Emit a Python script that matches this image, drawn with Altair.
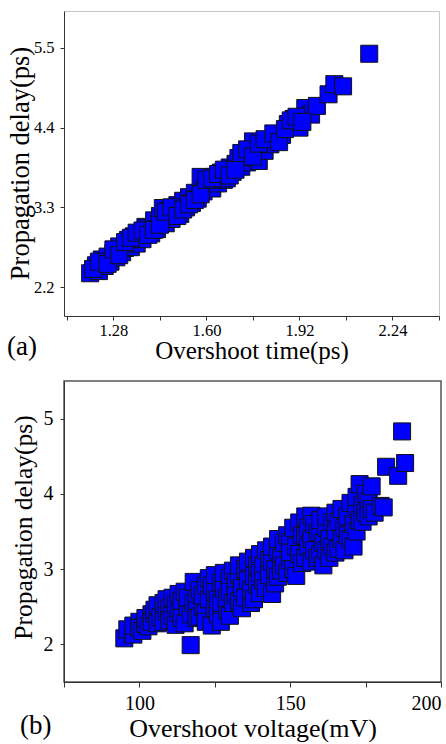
import altair as alt
import pandas as pd

# ---------------- Panel (a) data: Overshoot time vs propagation delay
a_time = [1.20, 1.22, 1.23, 1.24, 1.25, 1.26, 1.27, 1.28, 1.29, 1.30, 1.31, 1.32, 1.33, 1.34,
          1.35, 1.36, 1.37, 1.38, 1.39, 1.40, 1.41, 1.42, 1.43, 1.44, 1.45, 1.46, 1.47, 1.48,
          1.49, 1.50, 1.51, 1.52, 1.53, 1.54, 1.55, 1.56, 1.57, 1.58, 1.59, 1.60, 1.61, 1.62,
          1.63, 1.64, 1.65, 1.66, 1.67, 1.68, 1.69, 1.70, 1.71, 1.72, 1.73, 1.74, 1.75, 1.76,
          1.77, 1.78, 1.79, 1.80, 1.81, 1.82, 1.84, 1.86, 1.88, 1.89, 1.90, 1.92, 1.94, 1.96,
          1.98, 2.02, 2.04, 2.07, 2.16,
          1.21, 1.23, 1.26, 1.28, 1.30, 1.32, 1.34, 1.36, 1.38, 1.40, 1.42, 1.44, 1.46, 1.48,
          1.50, 1.52, 1.54, 1.56, 1.58, 1.60, 1.62, 1.64, 1.66, 1.68, 1.70, 1.72, 1.74, 1.76,
          1.78, 1.80, 1.83, 1.85, 1.87, 1.89, 1.91, 1.93]
a_delay = [2.39, 2.50, 2.42, 2.58, 2.49, 2.62, 2.55, 2.67, 2.61, 2.76, 2.68, 2.74, 2.85, 2.75,
           2.90, 2.80, 2.93, 2.86, 3.03, 3.01, 2.94, 3.12, 3.00, 3.18, 3.29, 3.08, 3.25, 3.14,
           3.22, 3.33, 3.21, 3.39, 3.30, 3.44, 3.36, 3.50, 3.42, 3.72, 3.52, 3.59, 3.66, 3.56,
           3.72, 3.63, 3.78, 3.68, 3.70, 3.85, 3.79, 3.90, 3.98, 3.86, 3.99, 3.92, 4.05, 4.21,
           3.98, 3.94, 4.15, 4.08, 4.22, 4.17, 4.25, 4.30, 4.45, 4.41, 4.52, 4.40, 4.67, 4.58,
           4.70, 4.86, 5.00, 4.97, 5.42,
           2.45, 2.55, 2.52, 2.72, 2.64, 2.82, 2.88, 2.95, 2.98, 2.92, 2.99, 3.06, 3.24, 3.30,
           3.18, 3.27, 3.34, 3.40, 3.48, 3.68, 3.70, 3.76, 3.82, 3.74, 3.82, 4.05, 4.10, 4.00,
           4.18, 4.24, 4.32, 4.20, 4.38, 4.50, 4.55, 4.48]

# ---------------- Panel (b) data: Overshoot voltage vs propagation delay
b_volt = [95, 97.7, 96, 98, 98, 100, 100, 101, 102, 102, 103, 104, 104, 105, 105, 106, 106,
          107, 108, 108, 109, 109, 110, 110, 111, 111, 112, 112, 113, 113, 114, 114, 115, 115,
          116, 116, 117, 118, 118, 119, 119, 119, 120, 120, 121, 121, 122, 122, 122, 123, 123,
          124, 124, 125, 125, 125, 126, 126, 127, 127, 127, 128, 128, 129, 129, 130, 130, 130,
          131, 131, 132, 132, 133, 133, 133, 134, 134, 135, 135, 136, 136, 137, 137, 138, 138,
          138, 139, 139, 140, 140, 140, 141, 141, 142, 142, 143, 143, 144, 144, 144, 145, 145,
          146, 146, 146, 147, 147, 148, 148, 149, 149, 150, 150, 150, 151, 151, 152, 152, 153,
          153, 154, 154, 155, 155, 155, 156, 156, 157, 157, 157, 158, 158, 159, 159, 160, 160,
          160, 161, 161, 162, 162, 162, 163, 163, 164, 164, 165, 165, 165, 166, 166, 167, 167,
          168, 168, 169, 169, 170, 170, 171, 171, 172, 172, 172, 173, 173, 174, 174, 175, 175,
          176, 176, 177, 177, 178, 180, 181, 181.8, 185.8, 117, 187.1, 188.1]
b_delay = [2.08, 2.15, 2.20, 2.13, 2.25, 2.30, 2.22, 2.18, 2.27, 2.35, 2.24, 2.40, 2.30, 2.41,
           2.46, 2.28, 2.52, 2.36, 2.55, 2.30, 2.44, 2.60, 2.48, 2.32, 2.38, 2.62, 2.52, 2.26,
           2.67, 2.42, 2.58, 2.35, 2.28, 2.70, 2.50, 2.62, 2.40, 2.83, 2.55, 2.61, 2.45, 2.35,
           2.72, 2.37, 2.50, 2.65, 2.78, 2.42, 2.30, 2.60, 2.88, 2.25, 2.78, 2.48, 2.70, 2.92,
           2.40, 2.60, 2.82, 2.55, 2.30, 2.74, 2.95, 2.45, 2.62, 2.88, 2.70, 2.38, 2.98, 2.55,
           2.83, 2.65, 2.57, 2.92, 3.05, 2.75, 2.48, 3.00, 2.62, 2.85, 3.10, 2.55, 2.72, 2.91,
           3.15, 2.60, 2.80, 3.05, 3.20, 2.68, 2.95, 3.05, 2.85, 2.75, 3.25, 3.12, 2.92, 3.10,
           2.67, 3.30, 2.81, 3.00, 3.25, 3.40, 2.90, 3.15, 2.98, 3.35, 3.05, 2.95, 3.45, 3.36,
           3.12, 3.22, 3.55, 3.00, 2.91, 3.30, 3.20, 3.62, 3.45, 3.08, 3.44, 3.15, 3.70, 3.30,
           3.55, 3.71, 3.10, 3.40, 3.25, 3.60, 3.48, 3.15, 3.49, 3.20, 3.65, 3.35, 3.05, 3.55,
           3.25, 3.70, 3.40, 3.15, 3.62, 3.30, 3.75, 3.22, 3.50, 3.63, 3.27, 3.40, 3.80, 3.55,
           3.25, 3.70, 3.45, 3.40, 3.88, 3.60, 3.30, 3.80, 3.96, 3.50, 4.13, 3.65, 3.63, 3.85,
           3.75, 4.00, 3.90, 3.70, 4.10, 3.80, 3.75, 3.84, 3.82, 4.36, 4.24, 1.99, 4.83, 4.41]

# axis ticks: labelled majors and unlabelled minors
a_xticks = [1.28, 1.60, 1.92, 2.24]
a_xminor = [1.12, 1.44, 1.76, 2.08, 2.40]
a_yticks = [2.2, 3.3, 4.4, 5.5]
b_xticks = [100, 150, 200]
b_xminor = [75, 125, 175]
b_yticks = [2, 3, 4, 5]

df_a = pd.DataFrame({"t": a_time, "d": a_delay})
df_b = pd.DataFrame({"v": b_volt, "d": b_delay})

FONT = "Liberation Serif"
BLUE = "#0000ff"


def axis(values, fmt, title, lsize, tsize, tick, lpad, **kw):
    return alt.Axis(values=values, format=fmt, title=title, labelFontSize=lsize,
                    titleFontSize=tsize, titleFont=FONT, labelFont=FONT,
                    labelColor="black", titleColor="black", titleFontWeight="normal",
                    domainColor="#333333", tickColor="#333333", tickSize=tick,
                    labelPadding=lpad, grid=False, titleBaseline="alphabetic", **kw)


def guide(x, y1, y2):
    # invisible layout guide fixing each panel's outer bounds
    return alt.Chart(pd.DataFrame({"k": [0]})).mark_rule(
        strokeOpacity=0, strokeWidth=0.5
    ).encode(x=alt.value(x), y=alt.value(y1), y2=alt.value(y2))


a_major_labels = str([format(v, ".2f") for v in a_xticks])
b_major_labels = str([format(v, "d") for v in b_xticks])

pts_a = alt.Chart(df_a).mark_square(
    size=290, filled=True, color=BLUE, stroke="#111111", strokeWidth=1, opacity=1
).encode(
    x=alt.X("t:Q", scale=alt.Scale(domain=[1.11, 2.40], nice=False, zero=False),
            axis=axis(sorted(a_xticks + a_xminor), ".2f", "Overshoot time(ps)", 16.5, 25, 4, 2,
                      titleY=42,
                      labelExpr=f"indexof({a_major_labels}, datum.label) >= 0 ? datum.label : ''")),
    y=alt.Y("d:Q", scale=alt.Scale(domain=[1.80, 6.01], nice=False, zero=False),
            axis=axis(a_yticks, ".1f", "Propagation delay(ps)", 16.5, 26.5, 4, 6,
                      titleX=-36, titleY=152, titleAlign="center", titleAngle=270)),
)
lab_a = alt.Chart(pd.DataFrame({"s": ["(a)"]})).mark_text(
    font=FONT, fontSize=27, align="left", baseline="alphabetic", color="black"
).encode(text="s:N", x=alt.value(-57), y=alt.value(344))
chart_a = (pts_a + lab_a + guide(-63.5, 0, 362)).properties(
    width=375, height=305,
    view=alt.ViewConfig(stroke="#c8c8c8", strokeWidth=1))

pts_b = alt.Chart(df_b).mark_square(
    size=290, filled=True, color=BLUE, stroke="#111111", strokeWidth=1, opacity=1
).encode(
    x=alt.X("v:Q", scale=alt.Scale(domain=[75, 200], nice=False, zero=False),
            axis=axis(sorted(b_xticks + b_xminor), "d", "Overshoot voltage(mV)", 20, 26, 5, 6,
                      titleY=54,
                      labelExpr=f"indexof({b_major_labels}, datum.label) >= 0 ? datum.label : ''")),
    y=alt.Y("d:Q", scale=alt.Scale(domain=[1.5, 5.5], nice=False, zero=False),
            axis=axis(b_yticks, "d", "Propagation delay(ps)", 20, 25.5, 4, 7,
                      titleX=-33, titleY=146, titleAlign="center", titleAngle=270)),
)
lab_b = alt.Chart(pd.DataFrame({"s": ["(b)"]})).mark_text(
    font=FONT, fontSize=27, align="left", baseline="alphabetic", color="black"
).encode(text="s:N", x=alt.value(-44), y=alt.value(353))
chart_b = (pts_b + lab_b + guide(-53.5, -10, 358)).properties(
    width=377, height=301,
    view=alt.ViewConfig(stroke="#555555", strokeWidth=1.5))

chart = alt.concat(
    chart_a, chart_b,
    columns=1, spacing=-4, align="none", bounds="full"
).properties(
    padding={"top": 10, "left": 0, "right": 0, "bottom": 0}
).configure(background="white")

chart.save("out.html", embed_options={"renderer": "svg", "actions": False})
